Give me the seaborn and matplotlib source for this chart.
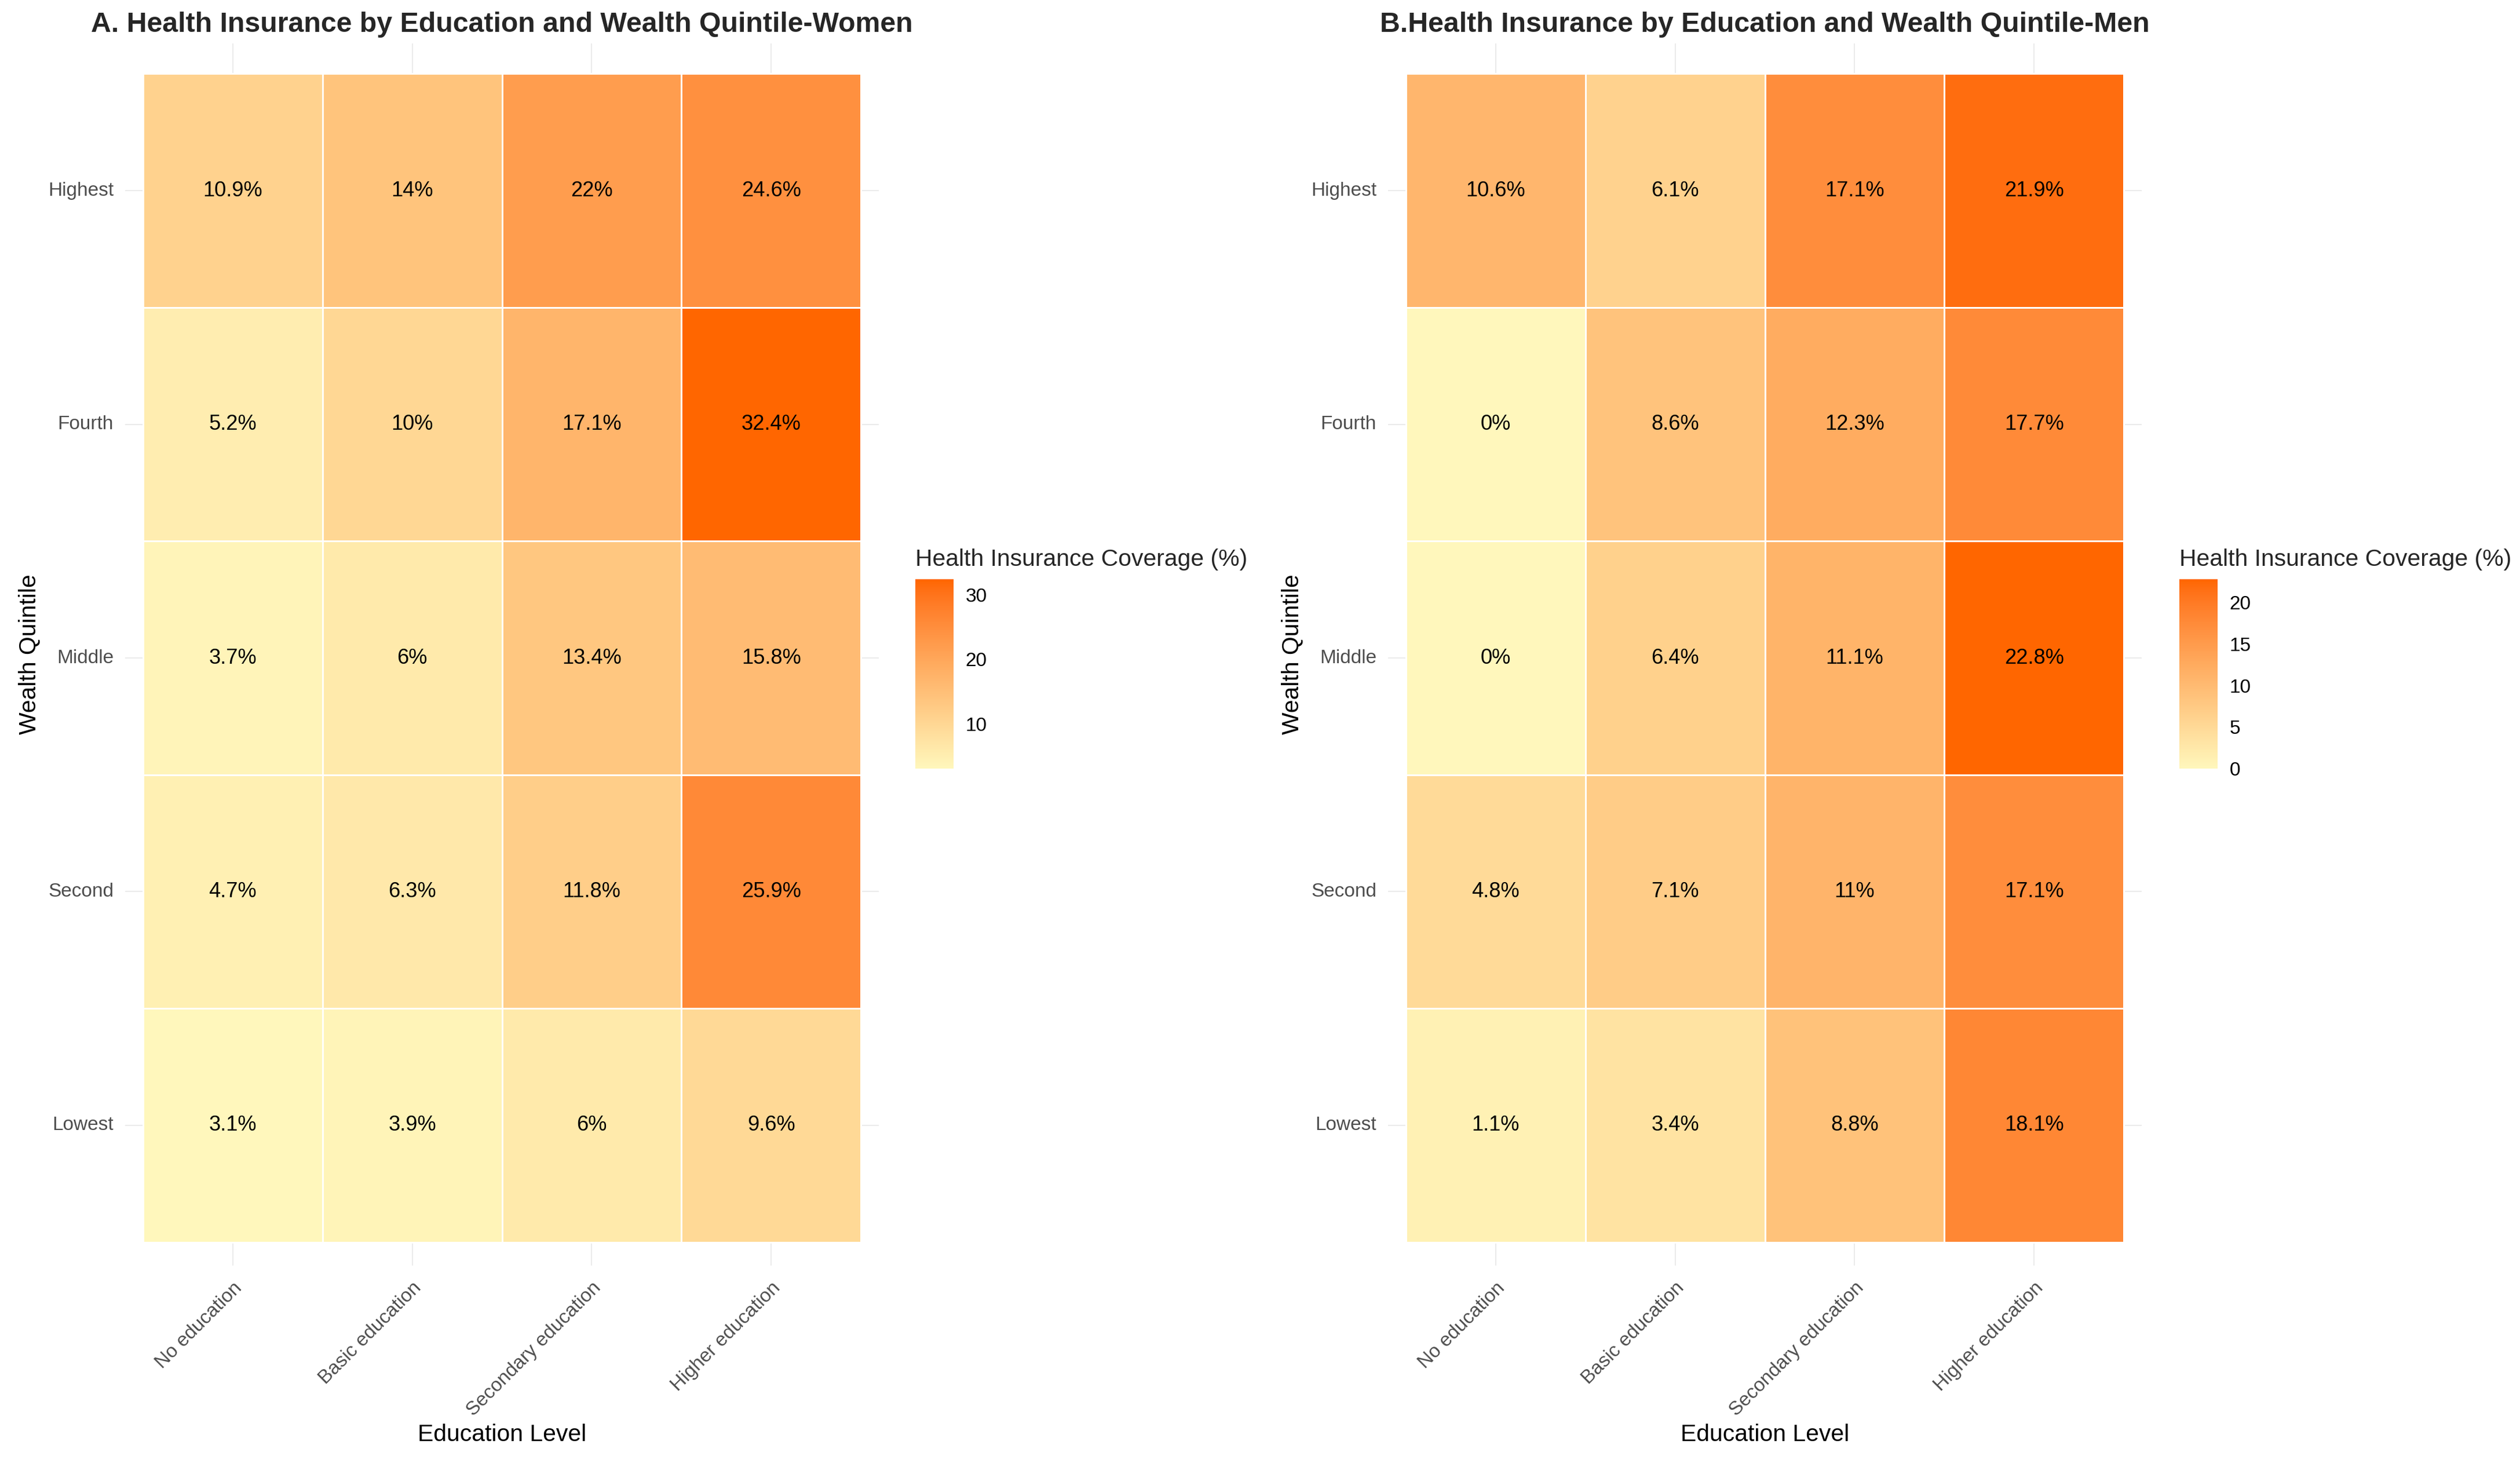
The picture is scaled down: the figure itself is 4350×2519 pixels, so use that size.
import numpy as np
import pandas as pd
import matplotlib
matplotlib.use("Agg")
import matplotlib.pyplot as plt
import seaborn as sns
from matplotlib.colors import LinearSegmentedColormap, to_rgb

############ Datos ############
quintiles = ['Highest', 'Fourth', 'Middle', 'Second', 'Lowest']
education = ['No education', 'Basic education', 'Secondary education', 'Higher education']

# Mujeres (filas: Highest -> Lowest)
women_none = [10.9, 5.2, 3.7, 4.7, 3.1]
women_basic = [14, 10, 6, 6.3, 3.9]
women_secondary = [22, 17.1, 13.4, 11.8, 6]
women_higher = [24.6, 32.4, 15.8, 25.9, 9.6]

# Hombres
men_none = [10.6, 0, 0, 4.8, 1.1]
men_basic = [6.1, 8.6, 6.4, 7.1, 3.4]
men_secondary = [17.1, 12.3, 11.1, 11, 8.8]
men_higher = [21.9, 17.7, 22.8, 17.1, 18.1]

women_ticks = [10, 20, 30]
men_ticks = [0, 5, 10, 15, 20]

women = pd.DataFrame({education[0]: women_none, education[1]: women_basic,
                      education[2]: women_secondary, education[3]: women_higher},
                     index=quintiles)
men = pd.DataFrame({education[0]: men_none, education[1]: men_basic,
                    education[2]: men_secondary, education[3]: men_higher},
                   index=quintiles)

############ Paleta (interpolacion en CIELAB, como ggplot) ############
M = np.array([[0.4124, 0.3576, 0.1805], [0.2126, 0.7152, 0.0722], [0.0193, 0.1192, 0.9505]])
WHITE = M @ np.ones(3)
D = 6 / 29


def rgb2lab(c):
    c = np.asarray(c, dtype=float)
    lin = np.where(c <= 0.04045, c / 12.92, ((c + 0.055) / 1.055) ** 2.4)
    t = (M @ lin) / WHITE
    f = np.where(t > D ** 3, np.cbrt(t), t / (3 * D ** 2) + 4 / 29)
    return np.array([116 * f[1] - 16, 500 * (f[0] - f[1]), 200 * (f[1] - f[2])])


def lab2rgb(lab):
    fy = (lab[0] + 16) / 116
    f = np.array([fy + lab[1] / 500, fy, fy - lab[2] / 200])
    t = np.where(f > D, f ** 3, 3 * D ** 2 * (f - 4 / 29)) * WHITE
    lin = np.clip(np.linalg.solve(M, t), 0, 1)
    return np.clip(np.where(lin <= 0.0031308, 12.92 * lin, 1.055 * lin ** (1 / 2.4) - 0.055), 0, 1)


lo, hi = rgb2lab(to_rgb('#FFF7BC')), rgb2lab(to_rgb('#FF6600'))
steps = np.linspace(0, 1, 32)
cmap = LinearSegmentedColormap.from_list('hi', [lab2rgb(lo + s * (hi - lo)) for s in steps])

############ Figura ############
sns.set_theme(style="white")
plt.rcParams['font.family'] = ['Liberation Sans', 'DejaVu Sans']

W, H = 4350, 2519
fig = plt.figure(figsize=(W / 300, H / 300), dpi=300)


def box(x0, y0, x1, y1):
    return [x0 / W, 1 - y1 / H, (x1 - x0) / W, (y1 - y0) / H]


def panel(ax, cax, df, title, ticks):
    labels = df.map(lambda v: f"{v:g}%")
    sns.heatmap(df, ax=ax, cbar_ax=cax, cmap=cmap, annot=labels, fmt='',
                annot_kws={'color': 'black', 'fontsize': 8.7},
                linewidths=0.6, linecolor='white', cbar_kws={'ticks': ticks})
    ax.set_xlim(-0.1, 4.1)
    ax.set_ylim(5.1, -0.13)
    ax.set_axisbelow(True)
    ax.grid(True, color='#EBEBEB', lw=0.5)
    ax.tick_params(length=0, labelsize=8.0, labelcolor='#4D4D4D')
    ax.tick_params(axis='y', pad=4.8, labelrotation=0)
    ax.tick_params(axis='x', pad=5.5)
    plt.setp(ax.get_xticklabels(), rotation=45, ha='right', va='top', rotation_mode='anchor')
    ax.set_title(title, fontsize=11.6, fontweight='bold', pad=4.8)
    ax.set_xlabel('Education Level', fontsize=9.8, color='black')
    ax.set_ylabel('Wealth Quintile', fontsize=9.8, color='black')
    ax.xaxis.set_label_coords(0.5, -0.1384)
    ax.xaxis.label.set_va('center')
    ax.yaxis.set_label_coords(-0.127, 0.5)
    ax.yaxis.label.set_va('center')
    cbar = ax.collections[0].colorbar
    cbar.outline.set_visible(False)
    cbar.ax.tick_params(left=True, right=True, direction='in', length=2.9, width=0.5,
                        color='white', labelsize=8.0, labelcolor='black', pad=5)
    pos = cax.get_position()
    fig.text(pos.x0, 1 - 977 / H, 'Health Insurance Coverage (%)', fontsize=9.8,
             ha='left', va='baseline')


ax1 = fig.add_axes(box(216, 75, 1517, 2185))
cax1 = fig.add_axes(box(1580, 1000, 1646, 1327))
ax2 = fig.add_axes(box(2396, 75, 3697, 2185))
cax2 = fig.add_axes(box(3762, 1000, 3828, 1327))

panel(ax1, cax1, women, 'A. Health Insurance by Education and Wealth Quintile-Women', women_ticks)
panel(ax2, cax2, men, 'B.Health Insurance by Education and Wealth Quintile-Men', men_ticks)

fig.savefig('out.png', dpi=300, facecolor='white')
